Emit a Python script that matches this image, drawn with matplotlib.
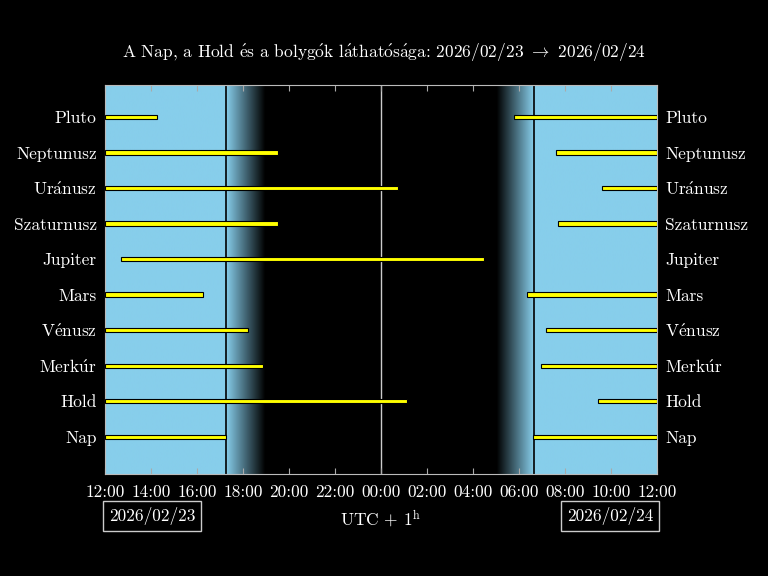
import numpy as np
import matplotlib
matplotlib.use("Agg")
import matplotlib.pyplot as plt
from matplotlib.patches import Rectangle

plt.rcParams['font.family'] = ['cmr10', 'DejaVu Serif']
plt.rcParams['mathtext.fontset'] = 'cm'
plt.rcParams['axes.unicode_minus'] = False

bodies = ["Nap", "Hold", r"$\mathrm{Merk\acute{u}r}$", r"$\mathrm{V\acute{e}nusz}$", "Mars", "Jupiter",
          "Szaturnusz", r"$\mathrm{Ur\acute{a}nusz}$", "Neptunusz", "Pluto"]
# hours after 2026-02-23 12:00 (UTC+1)
intervals = [
    [(0, 5.26), (18.6, 24)],
    [(0, 13.13), (21.43, 24)],
    [(0, 6.87), (18.96, 24)],
    [(0, 6.22), (19.17, 24)],
    [(0, 4.26), (18.35, 24)],
    [(0.7, 16.48)],
    [(0, 7.52), (19.7, 24)],
    [(0, 12.74), (21.6, 24)],
    [(0, 7.52), (19.6, 24)],
    [(0, 2.26), (17.78, 24)],
]
sunset, dusk_end = 5.26, 6.96
dawn_start, sunrise = 17.04, 18.65
xtick_labels = ["12:00", "14:00", "16:00", "18:00", "20:00", "22:00", "00:00",
                "02:00", "04:00", "06:00", "08:00", "10:00", "12:00"]

fig = plt.figure(figsize=(7.68, 5.76), dpi=100, facecolor='black')
ax = fig.add_axes([105/768, 1-474/576, 552/768, 389/576])
ax.set_facecolor('black')
y0, y1 = -1.05, 9.9

sky = np.array(matplotlib.colors.to_rgb('skyblue'))
xs = np.linspace(0, 24, 2000)
f = np.zeros_like(xs)
f[xs <= sunset] = 1
m = (xs > sunset) & (xs < dusk_end)
f[m] = 1 - (xs[m] - sunset) / (dusk_end - sunset)
m = (xs > dawn_start) & (xs < sunrise)
f[m] = (xs[m] - dawn_start) / (sunrise - dawn_start)
f[xs >= sunrise] = 1
img = (f[:, None] * sky[None, :])[None, :, :]
ax.imshow(img, extent=[0, 24, y0, y1], aspect='auto', origin='lower', zorder=0)
ax.axvline(sunset, color='black', lw=1.2, zorder=1)
ax.axvline(sunrise, color='black', lw=1.2, zorder=1)
ax.axvline(12, color='#cccccc', lw=1, zorder=1)

for i, ivs in enumerate(intervals):
    for a, b in ivs:
        ax.add_patch(Rectangle((a, i - 0.06), b - a, 0.12, facecolor='yellow',
                               edgecolor='black', lw=0.8, zorder=3))

ax.set_xlim(0, 24)
ax.set_ylim(y0, y1)
ax.set_xticks(np.arange(0, 25, 2))
ax.set_xticklabels(xtick_labels, color='white', fontsize=12.5)
ax.set_yticks(range(len(bodies)))
ax.set_yticklabels(bodies, color='white', fontsize=12.5)
ax.tick_params(axis='y', length=0, labelleft=True, labelright=True, pad=6)
ax.tick_params(axis='x', direction='in', colors='#aaaaaa', labelcolor='white',
               top=True, length=4, pad=8)
for s in ax.spines.values():
    s.set_color('#bbbbbb')

fig.text(0.5, 1-52/576,
         r"A Nap, a Hold $\mathrm{\acute{e}}$s a bolyg$\mathrm{\acute{o}}$k l$\mathrm{\acute{a}}$that$\mathrm{\acute{o}}$s$\mathrm{\acute{a}}$ga: 2026/02/23 $\rightarrow$ 2026/02/24",
         color='white', ha='center', va='center', fontsize=12.5)
fig.text(381/768, 1-519/576, r"UTC + 1$^{\mathrm{h}}$", color='white', ha='center', va='center', fontsize=12.5)
box = dict(facecolor='black', edgecolor='#cccccc', lw=1, pad=4)
fig.text(152/768, 1-516/576, "2026/02/23", color='white', ha='center', va='center', fontsize=12.5, bbox=box)
fig.text(610/768, 1-516/576, "2026/02/24", color='white', ha='center', va='center', fontsize=12.5, bbox=box)

fig.savefig("out.png", dpi=100, facecolor='black')
